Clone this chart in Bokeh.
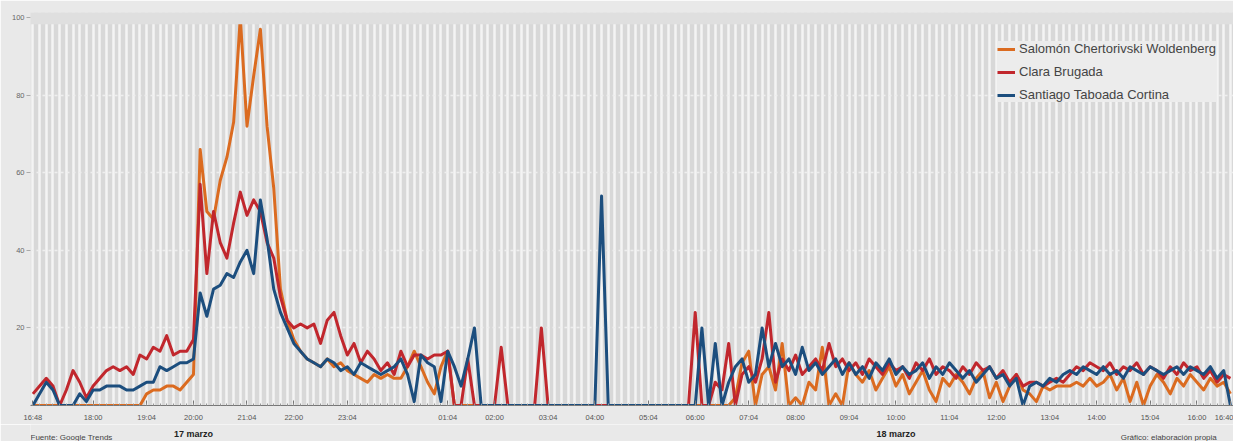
from bokeh.plotting import figure
from bokeh.layouts import column
from bokeh.models import FixedTicker, Legend, LegendItem, BoxAnnotation, Range1d
from bokeh.core.properties import value
from bokeh.embed import file_html
from bokeh.resources import INLINE

# 8-minute intervals, 17 marzo 16:48 -> 18 marzo 16:40 (180 points)
idx = list(range(180))

salomon = [0,0,0,0,0,0,0,0,0,0,
           0,0,0,0,0,0,0,3,4,4,
           5,5,4,6,8,66,50,48,58,64,
           73,100,72,85,97,72,56,30,22,17,
           14,12,11,10,12,10,11,9,8,7,
           6,8,7,8,7,7,10,14,10,6,
           3,10,14,0,0,0,0,0,0,0,
           0,0,0,0,0,0,0,0,0,0,
           0,0,0,0,0,0,0,0,0,0,
           0,0,0,0,0,0,0,0,0,0,
           0,0,0,0,0,2,11,14,0,8,
           10,4,16,0,2,0,6,4,15,0,
           3,0,11,8,6,9,4,7,10,5,
           8,3,6,9,4,1,7,5,8,6,
           3,7,9,2,6,1,5,8,4,3,
           1,5,4,5,5,5,6,5,7,5,
           6,8,4,7,1,6,0,5,8,6,
           3,7,5,8,6,4,7,5,6,3]

clara = [3,5,7,5,0,4,9,6,2,5,
         7,9,10,9,10,8,13,12,15,14,
         18,13,14,14,17,57,34,50,42,38,
         47,55,49,53,50,42,38,28,22,20,
         21,20,21,16,22,24,18,13,16,11,
         14,12,9,11,8,14,10,13,13,12,
         13,13,14,0,0,12,0,0,0,0,
         15,0,0,0,0,0,20,0,0,0,
         0,0,0,0,0,0,0,0,0,0,
         0,0,0,0,0,0,0,0,0,24,
         0,0,6,4,16,0,8,10,6,12,
         24,6,12,9,13,8,10,12,9,16,
         10,12,9,11,8,12,10,8,11,9,
         10,7,11,9,12,8,10,9,7,10,
         8,11,9,10,7,9,6,8,5,6,
         6,5,6,7,6,8,10,9,11,10,
         9,11,8,10,9,11,8,10,9,7,
         10,8,11,9,10,7,9,6,8,7]

santiago = [0,3,6,4,0,0,0,3,1,4,
            4,5,5,5,4,4,5,6,6,10,
            9,10,11,11,12,29,23,30,31,34,
            33,37,40,34,53,43,30,24,20,16,
            14,12,11,10,12,11,9,10,8,11,
            10,9,8,9,10,12,8,1,13,11,
            10,1,14,10,5,12,20,0,0,0,
            0,0,0,0,0,0,0,0,0,0,
            0,0,0,0,0,54,0,0,0,0,
            0,0,0,0,0,0,0,0,0,0,
            20,0,16,0,6,10,12,6,8,20,
            10,16,10,12,8,15,9,11,8,10,
            12,8,11,8,10,7,11,9,12,8,
            10,8,9,11,7,10,8,11,9,7,
            9,6,8,10,7,8,5,7,0,5,
            6,5,7,6,8,9,8,10,9,8,
            10,8,9,7,10,9,8,10,9,8,
            9,10,8,10,9,8,10,7,9,0]

tick_idx = [0, 9, 17, 24, 32, 39, 47, 62, 69, 77, 84, 92, 99, 107, 114, 122,
            129, 137, 144, 152, 159, 167, 174, 179]
tick_lbl = ["16:48", "18:00", "19:04", "20:00", "21:04", "22:00", "23:04", "01:04",
            "02:00", "03:04", "04:00", "05:04", "06:00", "07:04", "08:00", "09:04",
            "10:00", "11:04", "12:00", "13:04", "14:00", "15:04", "16:00", "16:40"]
y_ticks = [20, 40, 60, 80, 100]
day_labels = ["17 marzo", "18 marzo"]
day_pos = [24, 129]
source_left = "Fuente: Google Trends"
source_right = "Gráfico: elaboración propia"

names = ["Salomón Chertorivski Woldenberg", "Clara Brugada", "Santiago Taboada Cortina"]
colors = ["#db6b20", "#c1272d", "#1c4e7e"]

FONT = "Liberation Sans"
W = 1233
X0, X1 = -0.36, 179.46
BG = "#e9e9e9"

xr = Range1d(X0, X1)

p = figure(width=W, height=424, output_backend="svg", toolbar_location=None,
           x_range=xr, y_range=Range1d(0, 101.3),
           min_border_left=30, min_border_right=0, min_border_top=12, min_border_bottom=17)
p.background_fill_color = "#d8d8d8"
p.border_fill_color = BG
p.outline_line_color = None

p.xgrid.ticker = FixedTicker(ticks=idx)
p.xgrid.grid_line_color = "#f4f4f4"
p.xgrid.grid_line_width = 2.5
p.ygrid.ticker = FixedTicker(ticks=y_ticks[:-1])
p.ygrid.grid_line_color = "#eeeeee"
p.ygrid.grid_line_width = 1.5
p.ygrid.grid_line_dash = "3 3"

p.add_layout(BoxAnnotation(bottom=98.3, top=101.3, fill_color="#dfdfdf", fill_alpha=1, line_color=None))

renderers = []
for vals, c in zip([salomon, clara, santiago], colors):
    r = p.line(idx, vals, line_color=c, line_width=3, line_join="round")
    renderers.append(r)

xa = p.xaxis[0]
xa.ticker = FixedTicker(ticks=tick_idx, minor_ticks=idx)
xa.major_label_overrides = {t: l for t, l in zip(tick_idx, tick_lbl)}
xa.major_label_text_font = FONT
xa.major_label_text_font_size = "7.5px"
xa.major_label_text_color = "#555555"
xa.axis_line_color = "#777777"
xa.major_tick_in = 5
xa.major_tick_out = 0
xa.minor_tick_in = 2
xa.minor_tick_out = 0
xa.major_tick_line_color = "#777777"
xa.minor_tick_line_color = "#999999"
xa.major_label_standoff = 7

ya = p.yaxis[0]
ya.ticker = FixedTicker(ticks=y_ticks)
ya.major_label_text_font = FONT
ya.major_label_text_font_size = "7.5px"
ya.major_label_text_color = "#666666"
ya.axis_line_color = None
ya.major_tick_in = 0
ya.major_tick_out = 4
ya.major_tick_line_color = "#aaaaaa"
ya.minor_tick_line_color = None
ya.major_label_standoff = 2

legend = Legend(items=[LegendItem(label=n, renderers=[r]) for n, r in zip(names, renderers)],
                location=(967, 303))
legend.background_fill_color = "#ececec"
legend.background_fill_alpha = 1
legend.border_line_color = None
legend.label_text_font = FONT
legend.label_text_font_size = "13px"
legend.label_text_color = "#444444"
legend.glyph_width = 18
legend.glyph_height = 12
legend.label_height = 12
legend.spacing = 8
legend.padding = 6
legend.label_standoff = 4
p.add_layout(legend)

# footer strip sharing the chart's x scale: day labels and credits
FH = 17
f = figure(width=W, height=FH, output_backend="svg", toolbar_location=None,
           x_range=xr, y_range=Range1d(0, FH),
           x_axis_location=None, y_axis_location=None,
           min_border_left=30, min_border_right=0, min_border_top=0, min_border_bottom=0)
f.grid.visible = False
f.outline_line_color = None
f.background_fill_color = BG
f.border_fill_color = BG

f.text(x=day_pos, y=[8, 8], text=day_labels, text_align="center", text_baseline="middle",
       text_font=value(FONT), text_font_size="9px", text_font_style="bold", text_color="#222222")
f.text(x=[X0, 162.6], y=[4, 4], text=[source_left, source_right], text_align="left",
       text_baseline="middle", text_font=value(FONT), text_font_size="8px", text_color="#444444")

layout = column(p, f, spacing=0)

open("out.html", "w").write(file_html(layout, INLINE))
